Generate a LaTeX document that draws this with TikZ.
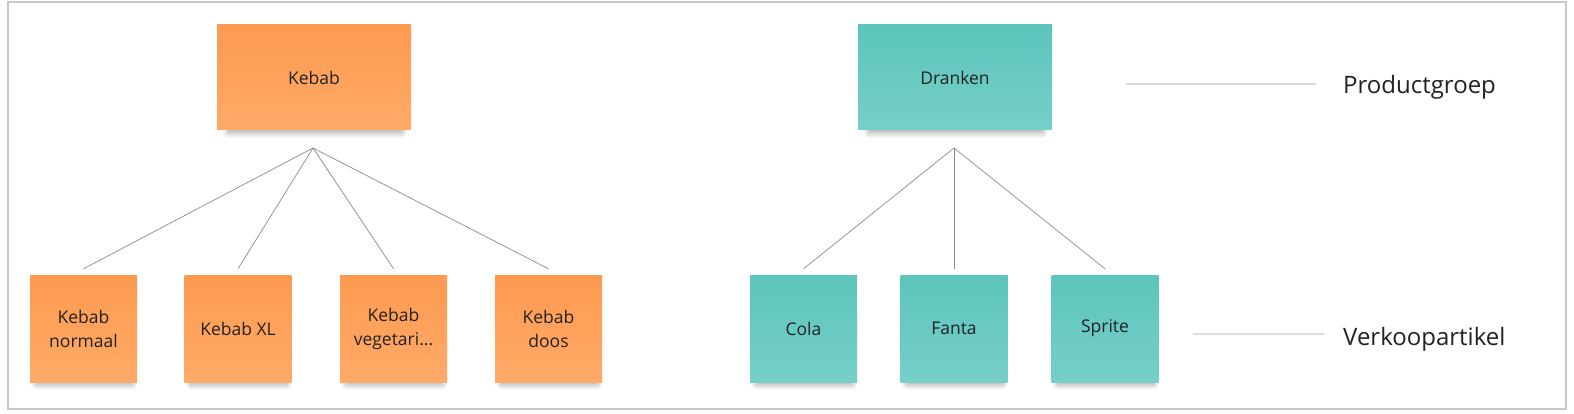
\documentclass[tikz,border=0pt]{standalone}
\usepackage{fontspec}
\setmainfont{Open Sans}
\usetikzlibrary{shadows.blur,calc}
\definecolor{orTop}{HTML}{FD9A50}
\definecolor{orBot}{HTML}{FFAA68}
\definecolor{tlTop}{HTML}{5CC5BC}
\definecolor{tlBot}{HTML}{76CFC8}
\definecolor{txt}{HTML}{222222}
\definecolor{conn}{HTML}{8A8A8A}
\definecolor{legline}{HTML}{DDDDDD}
\definecolor{frame}{HTML}{C8C8C8}
\tikzset{
  note/.style={minimum width=107pt, minimum height=107pt, inner sep=0pt, align=center,
    text=txt, font=\fontsize{17.5}{24}\selectfont,
    blur shadow={shadow xshift=1pt, shadow yshift=-9pt, shadow scale=0.9,
      shadow opacity=35, shadow blur radius=6pt, shadow blur steps=14}},
  bignote/.style={note, minimum width=194pt, minimum height=105pt},
  orange note/.style={top color=orTop, bottom color=orBot},
  teal note/.style={top color=tlTop, bottom color=tlBot},
  connector/.style={draw=conn, line width=0.7pt},
  legendline/.style={draw=legline, line width=1.5pt},
  legendtext/.style={anchor=base west, inner sep=0pt, text=txt, font=\fontsize{24}{28}\selectfont},
}
\begin{document}
\begin{tikzpicture}[x=1pt, y=-1pt]
  \useasboundingbox (0,0) rectangle (1574,414);
  \draw[frame, line width=1.2pt] (8,2) rectangle (1566,409);

  % Kebab group
  \node[bignote, orange note] (kebab) at (314,77.5) {Kebab};
  \node[note, orange note] (k1) at (83.5,328.5) {Kebab\\normaal};
  \node[note, orange note] (k2) at (238,328.5) {Kebab XL};
  \node[note, orange note] (k3) at (393.5,328.5) {Kebab\\vegetari...};
  \node[note, orange note] (k4) at (548.5,328.5) {Kebab\\doos};
  \coordinate (kapex) at (313,148);
  \foreach \c in {k1,k2,k3,k4} \draw[connector] (kapex) -- ([yshift=6pt]\c.north);

  % Dranken group
  \node[bignote, teal note] (dranken) at (955,77.5) {Dranken};
  \node[note, teal note] (cola) at (803.5,328.5) {Cola};
  \node[note, teal note] (fanta) at (954,328.5) {Fanta};
  \node[note, teal note] (sprite) at (1105,328.5) {Sprite};
  \coordinate (dapex) at (954,148);
  \foreach \c in {cola,fanta,sprite} \draw[connector] (dapex) -- ([yshift=6pt]\c.north);

  % Legend
  \node[legendtext] (pg) at (1343,94) {Productgroep};
  \coordinate (pgA) at (1126,84);
  \coordinate (pgB) at (1316,84);
  \draw[legendline] (pgA) -- (pgB);
  \node[legendtext] (va) at (1343,345) {Verkoopartikel};
  \coordinate (vaA) at (1193,334);
  \coordinate (vaB) at (1324,334);
  \draw[legendline] (vaA) -- (vaB);
\end{tikzpicture}
\end{document}
